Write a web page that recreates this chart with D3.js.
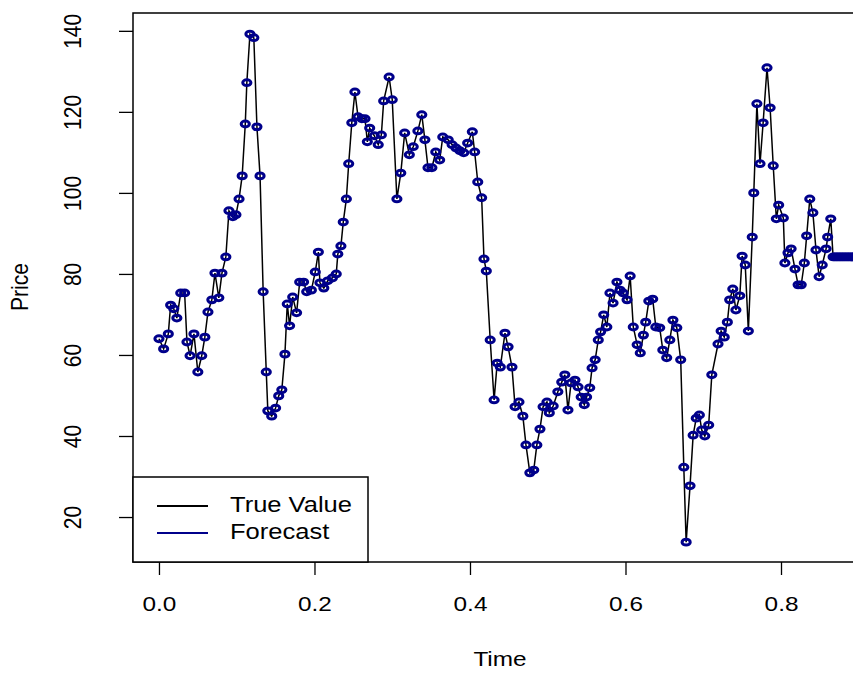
<!DOCTYPE html>
<html><head><meta charset="utf-8">
<script src="https://cdn.jsdelivr.net/npm/d3@7/dist/d3.min.js"></script>
<style>
html,body{margin:0;padding:0;background:#fff;}
svg text{font-family:"Liberation Sans",Arial,sans-serif;fill:#000;}
</style></head>
<body>
<svg id="chart" width="853" height="675"></svg>
<script>
const time = [0.000,0.006,0.012,0.015,0.019,0.023,0.028,0.033,0.036,0.040,
0.045,0.050,0.055,0.059,0.063,0.068,0.072,0.077,0.081,0.086,
0.090,0.095,0.099,0.103,0.107,0.111,0.113,0.117,0.122,0.126,
0.130,0.134,0.138,0.140,0.145,0.150,0.154,0.158,0.162,0.165,
0.168,0.172,0.177,0.181,0.186,0.190,0.196,0.201,0.205,0.207,
0.212,0.217,0.223,0.228,0.230,0.234,0.237,0.241,0.244,0.248,
0.252,0.256,0.261,0.265,0.268,0.271,0.277,0.282,0.286,0.289,
0.296,0.300,0.306,0.311,0.316,0.322,0.327,0.333,0.338,0.342,
0.346,0.351,0.356,0.361,0.365,0.372,0.377,0.382,0.387,0.392,
0.397,0.403,0.406,0.410,0.415,0.418,0.421,0.426,0.431,0.435,
0.439,0.445,0.449,0.454,0.458,0.463,0.468,0.472,0.477,0.482,
0.486,0.490,0.494,0.499,0.502,0.507,0.513,0.518,0.522,0.526,
0.530,0.535,0.539,0.543,0.547,0.550,0.554,0.557,0.561,0.565,
0.568,0.572,0.576,0.580,0.584,0.589,0.593,0.597,0.602,0.606,
0.610,0.615,0.619,0.623,0.626,0.630,0.635,0.639,0.644,0.648,
0.653,0.657,0.661,0.666,0.671,0.675,0.678,0.683,0.687,0.691,
0.695,0.698,0.702,0.707,0.711,0.719,0.723,0.727,0.731,0.734,
0.738,0.742,0.747,0.750,0.754,0.758,0.763,0.765,0.769,0.773,
0.777,0.782,0.786,0.790,0.794,0.797,0.803,0.805,0.809,0.813,
0.818,0.822,0.826,0.830,0.833,0.837,0.841,0.845,0.849,0.853,
0.858,0.860,0.864,0.867];
const price = [64.0,61.5,65.2,72.3,71.4,69.1,75.3,75.3,63.2,59.8,
65.2,55.8,59.8,64.4,70.6,73.6,80.2,74.1,80.2,84.2,
95.6,94.1,94.6,98.5,104.2,117.0,127.2,139.2,138.3,116.3,
104.2,75.6,55.8,46.2,44.9,46.9,49.9,51.4,60.2,72.6,
67.2,74.3,70.4,78.0,78.0,75.6,76.0,80.5,85.4,77.8,
76.5,78.3,79.0,80.0,84.9,86.9,92.8,98.5,107.2,117.3,
124.9,118.8,118.3,118.3,112.6,116.0,114.1,111.9,114.3,122.7,
128.6,123.0,98.5,104.9,114.8,109.4,111.4,115.3,119.3,113.1,
106.2,106.2,110.1,108.1,113.8,113.1,111.9,111.1,110.4,109.9,
112.3,115.1,110.1,102.7,98.8,83.7,80.7,63.7,48.9,58.0,
57.0,65.4,62.0,57.0,47.2,48.4,44.9,37.8,30.9,31.6,
37.8,41.7,47.2,48.4,45.7,47.4,50.9,53.3,55.1,46.4,
53.1,53.8,52.1,49.6,47.7,49.6,51.9,56.8,58.8,63.7,
65.7,69.9,66.9,75.3,72.8,78.0,76.0,75.3,73.6,79.5,
66.9,62.5,60.5,64.9,68.1,73.3,73.8,66.9,66.7,61.2,
59.3,63.7,68.6,66.7,58.8,32.3,13.8,27.7,40.2,44.4,
45.2,41.5,40.0,42.7,55.1,62.7,65.9,64.4,68.1,73.6,
76.3,71.1,74.6,84.4,82.2,65.9,89.1,100.0,122.0,107.2,
117.3,130.9,121.0,106.7,93.6,97.0,93.8,82.7,85.2,86.2,
81.2,77.3,77.3,82.7,89.4,98.5,95.1,85.9,79.3,82.2,
86.2,89.1,93.6,84.2];
const forecastTime = [0.869,0.871,0.873,0.875,0.877,0.879,0.881,0.883,0.885,0.887,0.889,0.891,0.893,0.895,0.897];
const forecastPrice = [84.2,84.2,84.2,84.2,84.2,84.2,84.2,84.2,84.2,84.2,84.2,84.2,84.2,84.2,84.2];
const xTicks = [0.0,0.2,0.4,0.6,0.8];
const yTicks = [20,40,60,80,100,120,140];
const legendLabels = ["True Value","Forecast"];
const legendColors = ["#000000","#00008B"];

const svg = d3.select("#chart");
const L = 133, R = 867, T = 13, B = 562;
const SX = 1.16;
const x = d3.scaleLinear().domain([-0.0334, 0.9106]).range([L, R]);
const y = d3.scaleLinear().domain([8.9, 144.4]).range([B, T]);

// line
const pts = time.map((t,i)=>[t, price[i]]);
svg.append("path")
  .datum(pts)
  .attr("fill","none").attr("stroke","#000").attr("stroke-width",1.5)
  .attr("d", d3.line().x(d=>x(d[0])).y(d=>y(d[1])));

// forecast markers
const fpts = pts.concat(forecastTime.map((t,i)=>[t, forecastPrice[i]]));
svg.append("g").selectAll("ellipse").data(fpts).join("ellipse")
  .attr("cx", d=>x(d[0])).attr("cy", d=>y(d[1]))
  .attr("rx", 4.1).attr("ry", 2.9)
  .attr("fill","none").attr("stroke","#00008B").attr("stroke-width",3);

// axes
const xa = svg.append("g").attr("transform",`translate(0,${B})`)
  .call(d3.axisBottom(x).tickValues(xTicks).tickFormat(d3.format(".1f")).tickSizeOuter(0).tickSize(13));
xa.select(".domain").remove();
xa.selectAll("line").attr("stroke","#000").attr("stroke-width",1.3);
xa.selectAll("text").attr("y",null).attr("dy",null)
  .attr("font-size",21)
  .attr("dominant-baseline","middle")
  .attr("transform",`translate(0,43) scale(${SX},1)`);

const ya = svg.append("g").attr("transform",`translate(${L},0)`)
  .call(d3.axisLeft(y).tickValues(yTicks).tickSizeOuter(0).tickSize(14));
ya.select(".domain").remove();
ya.selectAll("line").attr("stroke","#000").attr("stroke-width",1.3);
ya.selectAll("text").attr("x",null).attr("dy",null)
  .attr("font-size",21)
  .attr("text-anchor","middle")
  .attr("dominant-baseline","middle")
  .attr("transform",`translate(-58,0) scale(${SX},1) rotate(-90)`);

// frame
svg.append("rect").attr("x",L).attr("y",T).attr("width",R-L).attr("height",B-T)
  .attr("fill","none").attr("stroke","#000").attr("stroke-width",1.5);

// axis titles
svg.append("text").attr("transform",`translate(500,660) scale(${SX},1)`)
  .attr("text-anchor","middle").attr("dominant-baseline","middle")
  .attr("font-size",21).text("Time");
svg.append("text").attr("transform",`translate(22,287) scale(${SX},1) rotate(-90)`)
  .attr("text-anchor","middle").attr("dominant-baseline","middle")
  .attr("font-size",21).text("Price");

// legend
const lg = svg.append("g");
lg.append("rect").attr("x",L).attr("y",477).attr("width",368-L).attr("height",B-477)
  .attr("fill","#fff").attr("stroke","#000").attr("stroke-width",1.5);
legendLabels.forEach((lab,i)=>{
  const yy = 506 + i*27;
  lg.append("line").attr("x1",157).attr("x2",208).attr("y1",yy).attr("y2",yy)
    .attr("stroke",legendColors[i]).attr("stroke-width",2.2);
  lg.append("text").attr("transform",`translate(230,${yy}) scale(${SX},1)`)
    .attr("dominant-baseline","middle").attr("font-size",22).text(lab);
});
</script>
</body></html>
